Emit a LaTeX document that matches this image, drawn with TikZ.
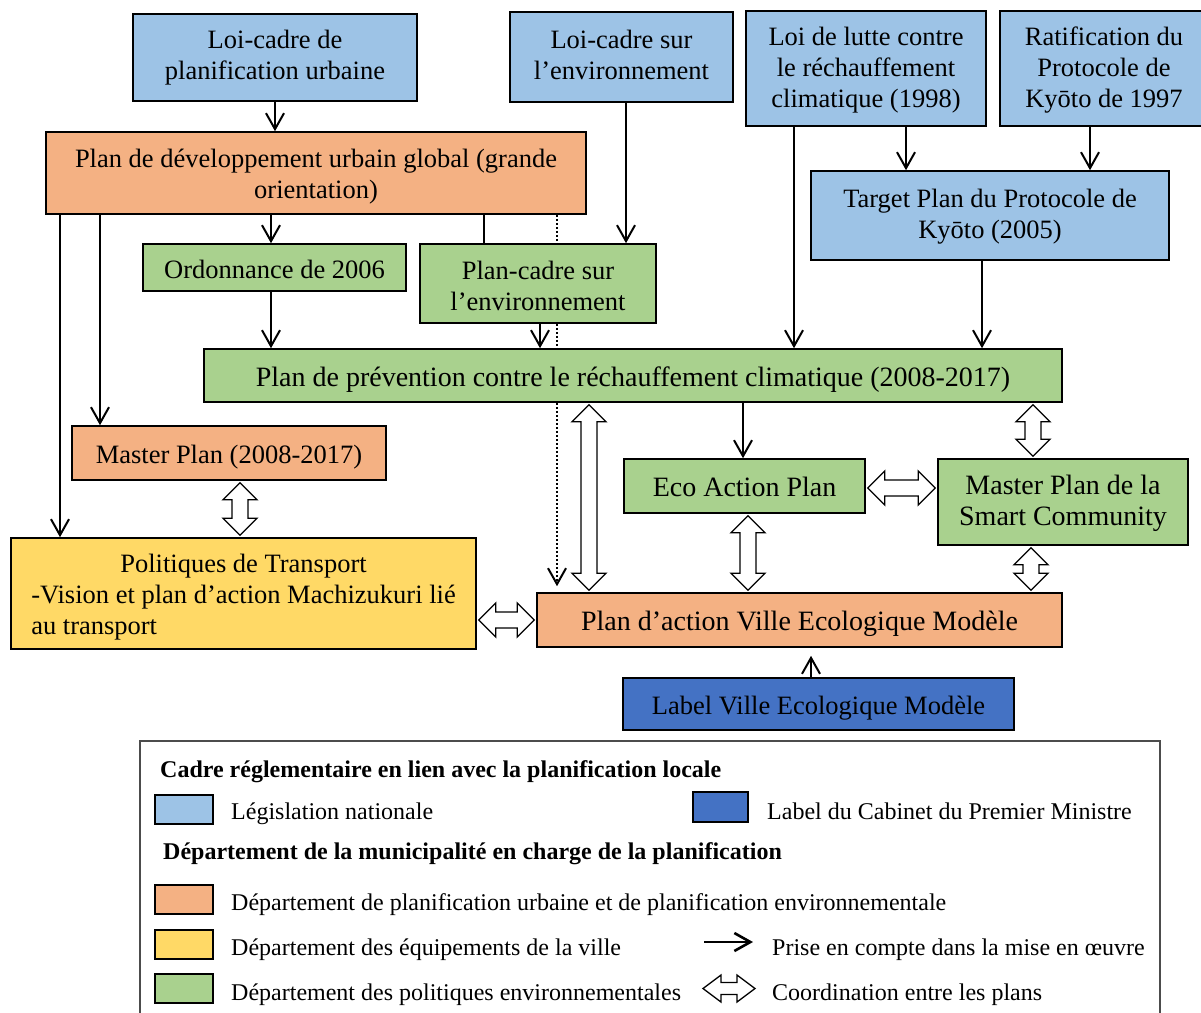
\documentclass[tikz,border=0pt]{standalone}
\usepackage{fontspec}
\setmainfont{Liberation Serif}
\usetikzlibrary{arrows.meta, calc, positioning}

\definecolor{lawblue}{HTML}{9DC3E6}
\definecolor{plangreen}{HTML}{A9D18E}
\definecolor{urbanorange}{HTML}{F4B183}
\definecolor{transyellow}{HTML}{FFD966}
\definecolor{labelblue}{HTML}{4472C4}

\newcommand{\boxstrut}{\rule[-6pt]{0pt}{33pt}}
% lines of a box, lowered by #1
\newcommand{\stack}[2]{\raisebox{-#1}[\height][\depth]{\begin{tabular}{@{}c@{}}#2\end{tabular}}}

\tikzset{
  hw/.store in=\dahw, sw/.store in=\dasw, hl/.store in=\dahl,
  hw=17pt, sw=8pt, hl=17pt,
  box/.style={draw=black, line width=1.6pt, align=center, inner sep=0pt,
    font=\fontsize{26.5}{31}\selectfont,
    execute at begin node=\boxstrut, execute at end node=\boxstrut},
  bigtxt/.style={font=\fontsize{28}{31}\selectfont},
  arr/.style={line width=2pt, -{Straight Barb[length=16pt, width=18pt]}},
  coord/.style={draw=black, fill=white, line width=1.3pt, line join=miter,
    to path={
      ($(\tikztostart)!2pt!(\tikztotarget)$) coordinate (ca)
      ($(\tikztotarget)!2pt!(\tikztostart)$) coordinate (cb)
      (ca) -- ($(ca)!\dahl!(cb)!\dahw!90:(cb)$)
      -- ($(ca)!\dahl!(cb)!\dasw!90:(cb)$)
      -- ($(cb)!\dahl!(ca)!\dasw!-90:(ca)$)
      -- ($(cb)!\dahl!(ca)!\dahw!-90:(ca)$)
      -- (cb)
      -- ($(cb)!\dahl!(ca)!\dahw!90:(ca)$)
      -- ($(cb)!\dahl!(ca)!\dasw!90:(ca)$)
      -- ($(ca)!\dahl!(cb)!\dasw!-90:(cb)$)
      -- ($(ca)!\dahl!(cb)!\dahw!-90:(cb)$)
      -- cycle}},
  swatch/.style={draw=black, line width=2pt, minimum width=58pt,
    minimum height=29pt, inner sep=0pt},
  legtxt/.style={anchor=west, inner sep=0pt, font=\fontsize{24}{28}\selectfont},
}

\begin{document}
\begin{tikzpicture}[x=1pt, y=-1pt]
  \useasboundingbox (0,0) rectangle (1201,1012);
  % Legislation
  \node[box, fill=lawblue, minimum width=284pt, minimum height=87pt] (lcpu) at (275,57.5) {\stack{0pt}{Loi-cadre de\\planification urbaine}};
  \node[box, fill=lawblue, minimum width=223pt, minimum height=90pt] (lce) at (621.5,57) {\stack{1pt}{Loi-cadre sur\\l’environnement}};
  \node[box, fill=lawblue, minimum width=240pt, minimum height=115pt] (lrc) at (866,68.5) {\stack{2pt}{Loi de lutte contre\\le réchauffement\\climatique (1998)}};
  \node[box, fill=lawblue, minimum width=208pt, minimum height=115pt] (rpk) at (1104,68.5) {\stack{2pt}{Ratification du\\Protocole de\\Kyōto de 1997}};
  \node[box, fill=lawblue, minimum width=358pt, minimum height=89pt] (tpk) at (990,215.5) {\stack{1pt}{Target Plan du Protocole de\\Kyōto (2005)}};
  % Plans
  \node[box, fill=urbanorange, minimum width=540pt, minimum height=82pt] (pdug) at (316,173) {\stack{3.5pt}{Plan de développement urbain global (grande\\orientation)}};
  \node[box, fill=plangreen, minimum width=263pt, minimum height=47pt] (ord) at (274.5,267.5) {Ordonnance de 2006};
  \node[box, fill=plangreen, minimum width=236pt, minimum height=79pt] (pce) at (538,283.5) {\stack{5.5pt}{Plan-cadre sur\\l’environnement}};
  \node[box, bigtxt, fill=plangreen, minimum width=858pt, minimum height=53pt] (prc) at (633,375.5) {Plan de prévention contre le réchauffement climatique (2008-2017)};
  \node[box, fill=urbanorange, minimum width=314pt, minimum height=54pt] (mp) at (229,453) {Master Plan (2008-2017)};
  \node[box, bigtxt, fill=plangreen, minimum width=241pt, minimum height=54pt] (eap) at (744.5,486) {Eco Action Plan};
  \node[box, bigtxt, fill=plangreen, minimum width=250pt, minimum height=86pt] (mpsc) at (1063,502) {\stack{2pt}{Master Plan de la\\Smart Community}};
  \node[box, fill=transyellow, minimum width=465pt, minimum height=111pt] (transp) at (243.5,593.5) {\raisebox{-4pt}[\height][\depth]{\begin{tabular}{@{}l@{}}\multicolumn{1}{@{}c@{}}{Politiques de Transport}\\-Vision et plan d’action Machizukuri lié\\au transport\end{tabular}}};
  \node[box, bigtxt, fill=urbanorange, minimum width=525pt, minimum height=54pt] (pavem) at (799.5,620) {Plan d’action Ville Ecologique Modèle};
  \node[box, fill=labelblue, minimum width=391pt, minimum height=52pt] (lvem) at (818.5,704) {Label Ville Ecologique Modèle};

  % Columns of the connectors
  \coordinate (xtr) at (60,0);
  \coordinate (xmp) at (100,0);
  \coordinate (xjm) at (240,0);
  \coordinate (xord) at (271,0);
  \coordinate (xlcpu) at (275,0);
  \coordinate (xpce) at (484,0);
  \coordinate (xpcei) at (540,0);
  \coordinate (xdot) at (557,0);
  \coordinate (xpn) at (589,0);
  \coordinate (xlce) at (626,0);
  \coordinate (xeap) at (743,0);
  \coordinate (xen) at (748,0);
  \coordinate (xlrc) at (794,0);
  \coordinate (xlvem) at (811,0);
  \coordinate (xtpk) at (906,0);
  \coordinate (xtpi) at (982,0);
  \coordinate (xsn) at (1031,0);
  \coordinate (xps) at (1033,0);
  \coordinate (xrpk) at (1090,0);
  \coordinate (yes) at (0,488);

  % Taken into account
  \draw[arr] (xlcpu |- lcpu.south) -- (xlcpu |- pdug.north);
  \draw[arr] (xord |- pdug.south) -- (xord |- ord.north);
  \draw[line width=2pt] (xpce |- pdug.south) -- (xpce |- pce.north);
  \draw[arr] (xlce |- lce.south) -- (xlce |- pce.north);
  \draw[arr] (xord |- ord.south) -- (xord |- prc.north);
  \draw[arr] (xpcei |- pce.south) -- (xpcei |- prc.north);
  \draw[arr] (xtr |- pdug.south) -- (xtr |- transp.north);
  \draw[arr] (xmp |- pdug.south) -- (xmp |- mp.north);
  \draw[arr] (xlrc |- lrc.south) -- (xlrc |- prc.north);
  \draw[arr] (xtpk |- lrc.south) -- (xtpk |- tpk.north);
  \draw[arr] (xrpk |- rpk.south) -- (xrpk |- tpk.north);
  \draw[arr] (xtpi |- tpk.south) -- (xtpi |- prc.north);
  \draw[arr] (xeap |- prc.south) -- (xeap |- eap.north);
  \draw[arr] (xlvem |- lvem.north) -- ([yshift=-8pt]xlvem |- pavem.south);
  % dotted link
  \draw[line width=2pt, dash pattern=on 2pt off 2pt] (xdot |- pdug.south) -- (xdot |- pce.north);
  \draw[line width=2pt, dash pattern=on 2pt off 2pt] (xdot |- pce.south) -- (xdot |- prc.north);
  \draw[arr, dash pattern=on 2pt off 2pt] (xdot |- prc.south) -- ([yshift=6pt]xdot |- pavem.north);

  % Coordination
  \draw[coord] (xjm |- mp.south) to (xjm |- transp.north);
  \draw[coord] (xpn |- prc.south) to (xpn |- pavem.north);
  \draw[coord] (xps |- prc.south) to (xps |- mpsc.north);
  \draw[coord] (eap.east |- yes) to (mpsc.west |- yes);
  \draw[coord] (xen |- eap.south) to (xen |- pavem.north);
  \draw[coord] (xsn |- mpsc.south) to (xsn |- pavem.north);
  \draw[coord] (transp.east |- pavem.west) to (pavem.west);

  % Legend
  \draw[draw=black!70, line width=1.2pt] (140,1016) |- (1160,741) -- (1160,1016);
  \node[legtxt, font=\fontsize{24}{28}\selectfont\bfseries] (lgh1) at (160,772) {Cadre réglementaire en lien avec la planification locale};
  \node[swatch, fill=lawblue] (sw1) at (184,809.5) {};
  \node[legtxt] (lg1) at (231,814) {Législation nationale};
  \node[swatch, fill=labelblue, minimum width=55pt, minimum height=30pt] (sw2) at (720.5,806.5) {};
  \node[legtxt] (lg2) at (767,811) {Label du Cabinet du Premier Ministre};
  \node[legtxt, font=\fontsize{24}{28}\selectfont\bfseries] (lgh2) at (163,854) {Département de la municipalité en charge de la planification};
  \node[swatch, fill=urbanorange] (sw3) at (184,899) {};
  \node[legtxt] (lg3) at (231,905) {Département de planification urbaine et de planification environnementale};
  \node[swatch, fill=transyellow] (sw4) at (184,944.5) {};
  \node[legtxt] (lg4) at (231,950) {Département des équipements de la ville};
  \node[swatch, fill=plangreen] (sw5) at (184,988.5) {};
  \node[legtxt] (lg5) at (231,995) {Département des politiques environnementales};
  \coordinate (la1) at (704,942);
  \coordinate (la2) at (753,942);
  \draw[arr, line width=2.6pt] (la1) -- (la2);
  \node[legtxt] (lg6) at (772,950) {Prise en compte dans la mise en œuvre};
  \coordinate (ld1) at (701,988.5);
  \coordinate (ld2) at (757,988.5);
  \draw[coord, hw=13.5pt, sw=6pt, hl=18pt] (ld1) to (ld2);
  \node[legtxt] (lg7) at (772,995) {Coordination entre les plans};
\end{tikzpicture}
\end{document}
